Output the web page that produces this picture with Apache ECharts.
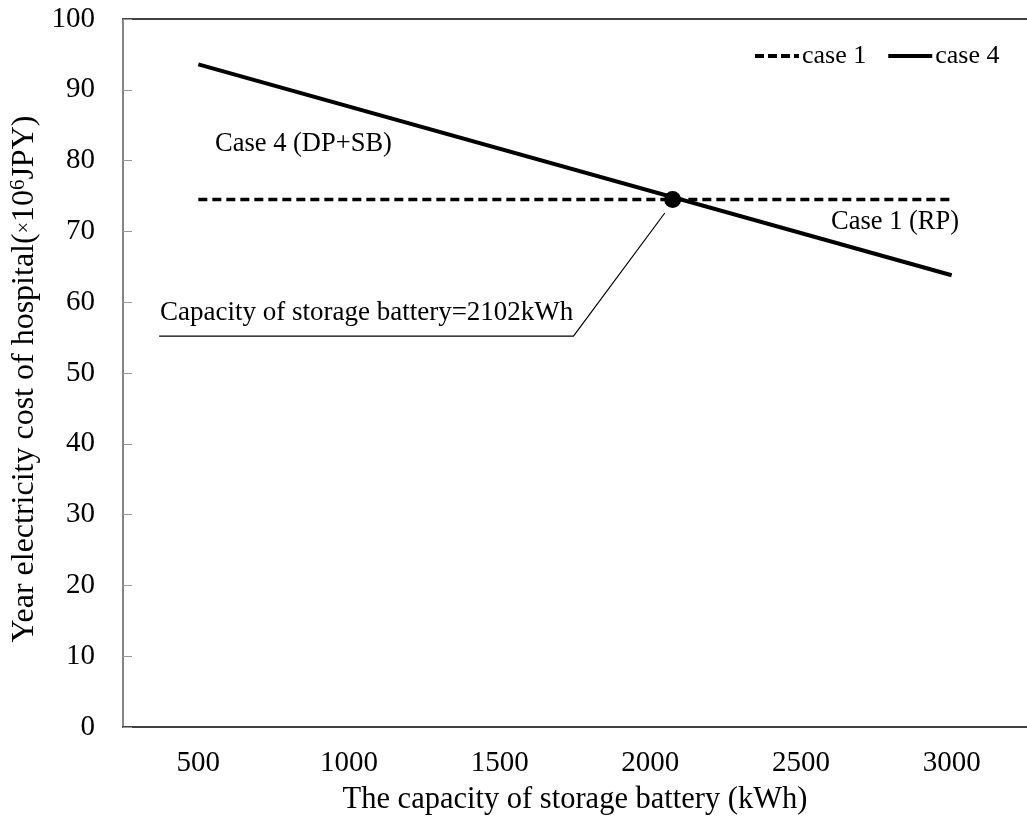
<!DOCTYPE html>
<html>
<head>
<meta charset="utf-8">
<script src="https://cdn.jsdelivr.net/npm/echarts@6/dist/echarts.min.js"></script>
<style>
html,body{margin:0;padding:0;background:#fff;}
#chart{width:1027px;height:829px;}
</style>
</head>
<body>
<div id="chart"></div>
<script>
// ---- data ----
const categories = ['500', '1000', '1500', '2000', '2500', '3000'];
const case1X = [500, 3000];
const case1Y = [74.5, 74.5];
const case4X = [500, 3000];
const case4Y = [93.6, 63.8];
const crossX = [2074];
const crossY = [74.5];
const leaderX = [370, 1745, 2048];
const leaderY = [55.2, 55.2, 72.6];
const yTicks = [0, 100, 10]; // min, max, interval
const xRange = [250, 3250];

const FONT = 'Liberation Serif';
const zip = (xs, ys) => xs.map((x, i) => [x, ys[i]]);

const dashIcon = 'path://M0,0h9v4h-9z M13,0h9v4h-9z M26,0h9v4h-9z M39,0h5v4h-5z';
const solidIcon = 'path://M0,0h44v4h-44z';

const chart = echarts.init(document.getElementById('chart'));
chart.setOption({
  backgroundColor: '#fff',
  animation: false,
  textStyle: { fontFamily: FONT, color: '#000' },
  grid: { left: 122, top: 19, width: 912, height: 708 },
  legend: {
    data: [{ name: 'case 1', icon: dashIcon }, { name: 'case 4', icon: solidIcon }],
    left: 750, top: 38,
    itemWidth: 44, itemHeight: 4, itemGap: 22,
    itemStyle: { color: '#000', borderWidth: 0 },
    lineStyle: { inactiveWidth: 0 },
    textStyle: { fontFamily: FONT, fontSize: 26, color: '#000', padding: [0, 0, 0, -2] }
  },
  xAxis: [
    {
      type: 'category', data: categories, boundaryGap: true,
      axisLine: { lineStyle: { color: '#404040', width: 2 } },
      axisTick: { inside: true, length: 8, lineStyle: { color: '#888', width: 1 } },
      axisLabel: { fontFamily: FONT, fontSize: 29, color: '#000', margin: 22 },
      name: 'The capacity of storage battery (kWh)',
      nameLocation: 'middle', nameGap: 57,
      nameTextStyle: { fontFamily: FONT, fontSize: 30.5, color: '#000' },
      splitLine: { show: false }
    },
    {
      type: 'value', min: xRange[0], max: xRange[1], position: 'top',
      axisLine: { show: true, onZero: false, lineStyle: { color: '#404040', width: 2 } },
      axisTick: { show: false }, axisLabel: { show: false }, splitLine: { show: false }
    }
  ],
  yAxis: {
    type: 'value', min: yTicks[0], max: yTicks[1], interval: yTicks[2],
    axisLine: { show: true, lineStyle: { color: '#868686', width: 2 } },
    axisTick: { show: true, inside: true, length: 9, lineStyle: { color: '#999', width: 1 } },
    axisLabel: { fontFamily: FONT, fontSize: 29, color: '#000', margin: 28 },
    splitLine: { show: false },
    name: 'Year electricity cost of hospital({x|×}10{sup|6}JPY)',
    nameLocation: 'middle', nameRotate: 90, nameGap: 82,
    nameTextStyle: {
      fontFamily: FONT, fontSize: 32, color: '#000', padding: [0, 12, 0, 0],
      rich: {
        x: { fontFamily: FONT, fontSize: 20, color: '#000' },
        sup: { fontFamily: FONT, fontSize: 21, color: '#000', verticalAlign: 'top', padding: [0, 0, 12, 0] }
      }
    }
  },
  series: [
    {
      name: 'case 1', type: 'line', xAxisIndex: 1, symbol: 'none',
      data: zip(case1X, case1Y),
      lineStyle: { color: '#000', width: 3.5, type: [9, 5] },
      itemStyle: { color: '#000' }, z: 3
    },
    {
      name: 'case 4', type: 'line', xAxisIndex: 1, symbol: 'none',
      data: zip(case4X, case4Y),
      lineStyle: { color: '#000', width: 4 },
      itemStyle: { color: '#000' }, z: 3
    },
    {
      name: 'leader', type: 'line', xAxisIndex: 1, symbol: 'none', silent: true,
      data: zip(leaderX, leaderY),
      lineStyle: { color: '#000', width: 1.2 }, z: 2
    },
    {
      name: 'crossing', type: 'scatter', xAxisIndex: 1, symbolSize: 17,
      data: zip(crossX, crossY),
      itemStyle: { color: '#000', opacity: 1 }, z: 5
    }
  ],
  graphic: [
    { type: 'text', left: 215, top: 146 - 15, style: { text: 'Case 4 (DP+SB)', font: '26.5px "Liberation Serif"', fill: '#000' } },
    { type: 'text', left: 831, top: 224 - 15, style: { text: 'Case 1 (RP)', font: '26.5px "Liberation Serif"', fill: '#000' } },
    { type: 'text', left: 160, top: 314 - 15, style: { text: 'Capacity of storage battery=2102kWh', font: '27px "Liberation Serif"', fill: '#000' } }
  ]
});
</script>
</body>
</html>
